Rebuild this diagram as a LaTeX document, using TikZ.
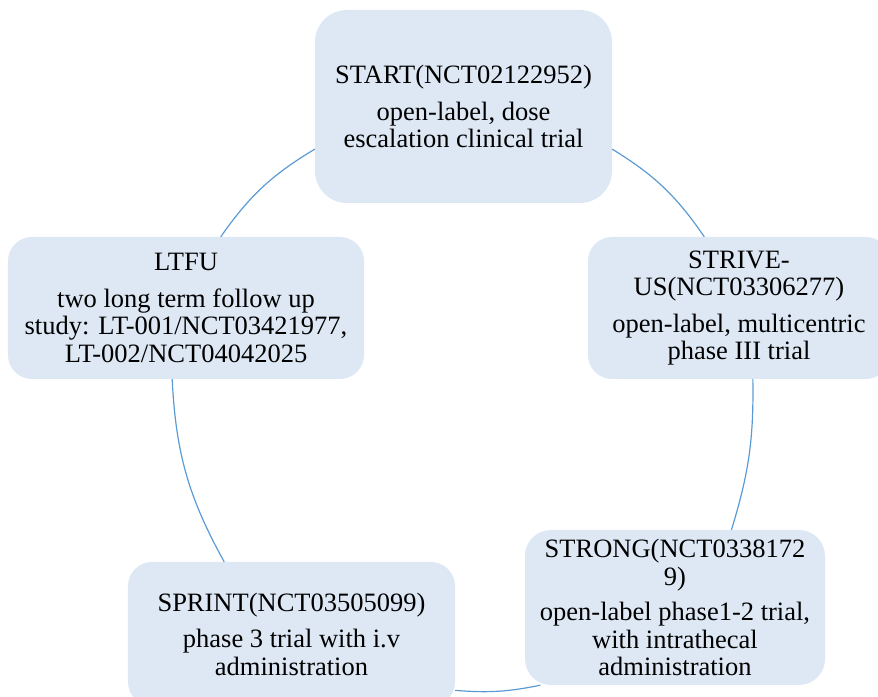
\documentclass[tikz,border=0pt]{standalone}
\usepackage{fontspec}
\setmainfont{Liberation Serif}

\definecolor{boxfill}{HTML}{DDE8F4}
\definecolor{arcline}{HTML}{5B9BD5}

\tikzset{
  stage/.style={rectangle, fill=boxfill, align=center, inner sep=0pt,
    font=\fontsize{26.5bp}{27.5bp}\selectfont},
  link/.style={draw=arcline, line width=1.2bp},
}

\begin{document}
\begin{tikzpicture}[x=1bp, y=1bp]

    \clip (0,0) rectangle (878,697);

    \node[stage,
    minimum width=297bp,
    minimum height=193bp,
    rounded corners=32bp] (start) at (463.5,590.5)
      {START(NCT02122952)\\[9bp]open-label, dose\\escalation clinical trial};

    \node[stage,
    minimum width=302bp,
    minimum height=142bp,
    rounded corners=24bp] (strive) at (739,389)
      {STRIVE-\\US(NCT03306277)\\[9bp]open-label, multicentric\\phase III trial};

    \node[stage,
    minimum width=300bp,
    minimum height=155bp,
    rounded corners=26bp] (strong) at (675,89.5)
      {STRONG(NCT0338172\\9)\\[8bp]open-label phase1-2 trial,\\with intrathecal\\administration};

    \node[stage,
    minimum width=327bp,
    minimum height=144bp,
    rounded corners=24bp] (sprint) at (291.5,63)
      {SPRINT(NCT03505099)\\[9bp]phase 3 trial with i.v\\administration};

    \node[stage,
    minimum width=356bp,
    minimum height=142bp,
    rounded corners=24bp] (ltfu) at (186,389)
      {LTFU\\[9bp]two long term follow up\\study: LT-001/NCT03421977,\\LT-002/NCT04042025};

    % cycle
    \draw[link] (start.-16) to[bend left=12] (strive.116);
    \draw[link] (strive.-79) to[bend left=9] (strong.54);
    \draw[link] (strong.-150) to[bend left=8] (sprint.-19);
    \draw[link] (sprint.133) to[bend left=13] (ltfu.-101);
    \draw[link] (ltfu.64) to[bend left=12] (start.-164);

\end{tikzpicture}
\end{document}
